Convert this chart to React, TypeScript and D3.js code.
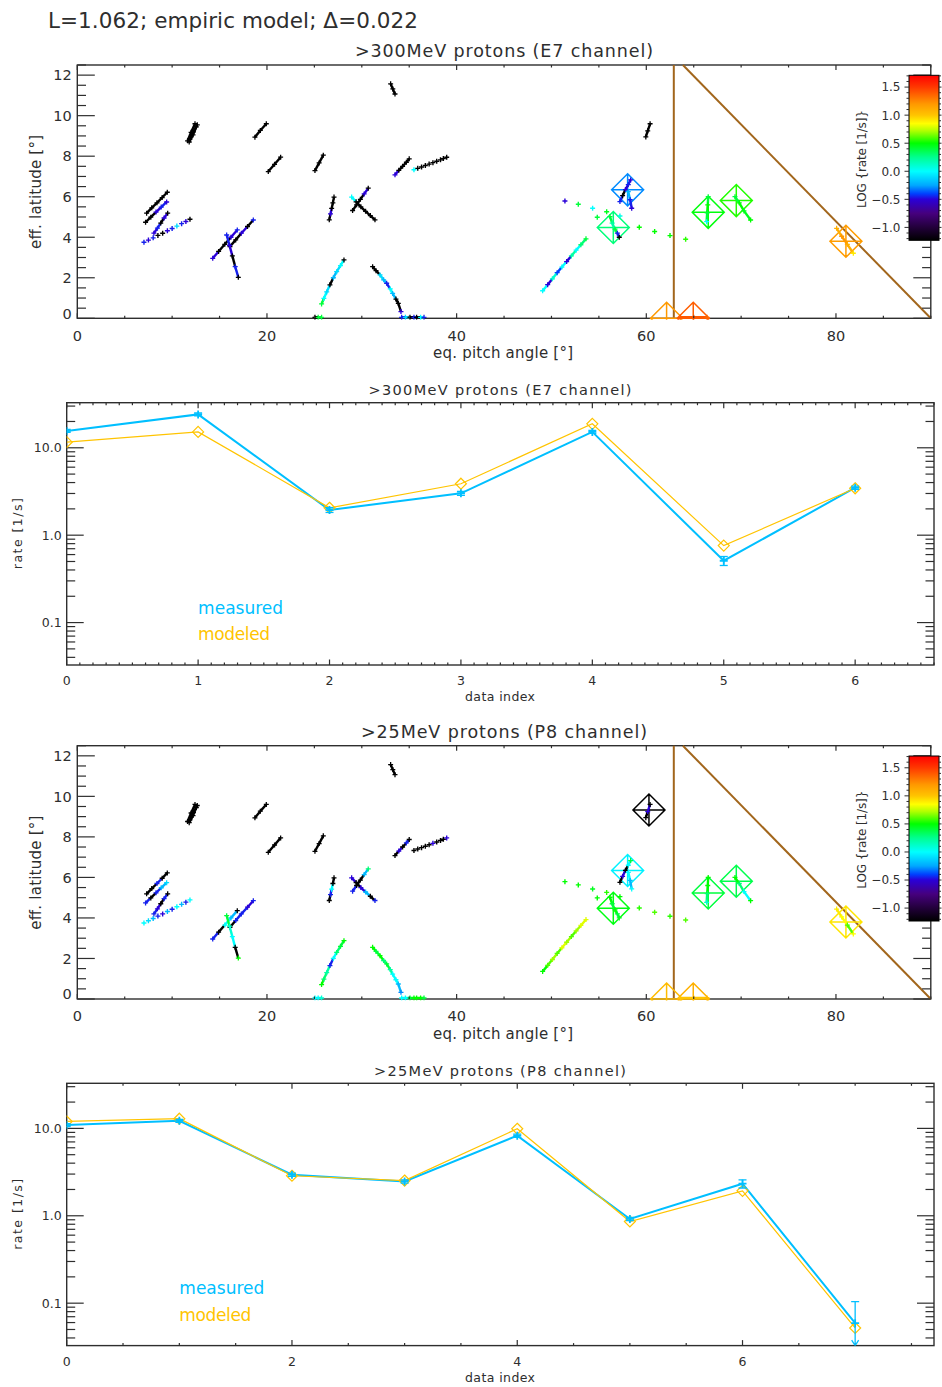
import React from "react";
import * as d3 from "d3";

// ---------------- text ----------------
const HEADER_TEXT = "L=1.062; empiric model; Δ=0.022";
const TITLE_E7 = ">300MeV protons (E7 channel)";
const TITLE_P8 = ">25MeV protons (P8 channel)";
const X_LABEL_SCATTER = "eq. pitch angle [°]";
const Y_LABEL_SCATTER = "eff. latitude [°]";
const CBAR_LABEL = "LOG {rate [1/s]}";
const X_LABEL_RATE = "data index";
const Y_LABEL_RATE = "rate [1/s]";
const LEGEND_MEAS = "measured";
const LEGEND_MODEL = "modeled";

// ---------------- rate data ----------------
const E7_MEASURED = [15.6, 24.1, 1.94, 3.01, 15.2, 0.51, 3.49];
const E7_MEAS_ERR = [0.6, 0.9, 0.12, 0.15, 0.6, 0.06, 0.15];
const E7_MODELED = [11.6, 15.2, 2.06, 3.88, 18.8, 0.76, 3.44];

const P8_MEASURED = [10.9, 12.2, 2.95, 2.47, 8.25, 0.92, 2.33, 0.059];
const P8_MEAS_ERR = [0.4, 0.45, 0.12, 0.1, 0.35, 0.04, 0.25, 0.045];
const P8_MODELED = [12.0, 12.9, 2.87, 2.53, 9.9, 0.86, 1.93, 0.052];

const E7_X_MAX = 6.6;
const P8_X_MAX = 7.7;
const RATE_DOMAIN = [0.0327, 32.8];
const RATE_TICKS = [0.1, 1, 10];
const RATE_TICK_LABELS = ["0.1", "1.0", "10.0"];

// positions of the data points in the pitch/latitude plane (per data index)
const DATA_PITCH = [62.14, 64.95, 56.52, 66.53, 81.05, 58.03, 69.49, 60.28];
const DATA_LAT = [0.0, 0.0, 4.48, 5.23, 3.8, 6.34, 5.81, 9.33];

// ---------------- scatter axes ----------------
const PITCH_DOMAIN = [0, 90];
const LAT_DOMAIN = [0, 12.5];
const PITCH_TICKS = [0, 20, 40, 60, 80];
const LAT_TICKS = [0, 2, 4, 6, 8, 10, 12];
const LOG_DOMAIN = [-1.23, 1.71];
const CBAR_TICKS = [-1.0, -0.5, 0.0, 0.5, 1.0, 1.5];
const CBAR_TICK_LABELS = ["−1.0", "−0.5", "0.0", "0.5", "1.0", "1.5"];

// boundary (loss-cone) lines in pitch/latitude
const BOUNDARY_VERTICAL = [[62.9, 0], [62.9, 12.5]];
const BOUNDARY_DIAGONAL = [[63.86, 12.5], [90, 0]];

// colour table (IDL rainbow) as stops over LOG rate
const CMAP_VALUES = [-1.23, -1.0, -0.75, -0.5, -0.4, -0.25, 0.0, 0.25, 0.5, 0.72, 0.85, 1.0, 1.2, 1.5, 1.71];
const CMAP_COLORS = ["#000000", "#22003a", "#46007e", "#2a00d8", "#0040ff", "#00a8ff", "#00ffff", "#00ff90", "#00ff00", "#b0ff00", "#ffff00", "#ffc400", "#ff9800", "#ff3800", "#ff0000"];

// ---------------- trajectory tracks: [pitch, lat, logRate E7, logRate P8] ----------------
const TRACK_A = [[33.04, 11.57, -1.3, -1.3], [33.27, 11.32, -1.3, -1.3], [33.5, 11.07, -1.3, -1.3]];
const TRACK_B1 = [[11.63, 8.76, -1.3, -1.3], [12.0, 9.18, -1.3, -1.3], [12.41, 9.6, -1.3, -1.3]];
const TRACK_B2 = [[11.88, 8.84, -1.3, -1.3], [12.25, 9.2, -1.3, -1.3], [12.65, 9.55, -1.3, -1.3]];
const TRACK_B3 = [[11.8, 8.7, -1.3, -1.3], [12.2, 9.05, -1.3, -1.3], [12.55, 9.45, -1.3, -1.3]];
const TRACK_C = [[18.73, 8.94, -1.3, -1.3], [19.3, 9.27, -1.3, -1.3], [19.93, 9.6, -1.3, -1.3]];
const TRACK_D = [[20.14, 7.24, -1.3, -1.3], [20.8, 7.6, -1.3, -1.3], [21.44, 7.95, -1.3, -1.3]];
const TRACK_E = [[25.06, 7.29, -1.3, -1.3], [25.5, 7.67, -1.3, -1.3], [25.94, 8.05, -1.3, -1.3]];
const TRACK_F = [[33.5, 7.08, -0.5, -1.3], [33.9, 7.3, -1.3, -0.5], [34.3, 7.5, -1.3, -1.3], [34.7, 7.7, -1.3, -0.45], [35.0, 7.87, -1.3, -1.3]];
const TRACK_G = [[35.5, 7.33, 0.0, -1.3], [35.9, 7.4, -1.3, -1.3], [36.3, 7.47, -1.3, -1.3], [36.7, 7.54, -1.3, -1.3], [37.1, 7.61, -1.3, -1.3], [37.5, 7.68, -1.3, -0.5], [37.9, 7.75, -1.3, -1.3], [38.3, 7.82, -1.3, -1.3], [38.6, 7.88, -1.3, -1.3], [38.95, 7.95, -1.3, -0.5]];
const TRACK_H = [[26.57, 4.86, -1.3, -1.3], [26.7, 5.15, -0.5, -0.45], [26.82, 5.42, -1.3, 0.0], [26.95, 5.7, -1.3, -1.3], [27.07, 5.98, -1.3, -1.3]];
const TRACK_I1 = [[28.93, 5.98, 0.0, -0.5], [29.4, 5.75, -1.3, -1.3], [29.9, 5.5, -1.3, -0.5], [30.4, 5.28, -1.3, -0.2], [30.9, 5.07, -1.3, -1.3], [31.39, 4.86, -1.3, -0.45]];
const TRACK_I2 = [[29.03, 5.32, -1.3, -0.45], [29.45, 5.6, -1.3, -1.3], [29.85, 5.87, -1.3, -1.3], [30.25, 6.14, -0.5, -0.2], [30.68, 6.42, -1.3, 0.3]];
const TRACK_J1 = [[7.31, 5.19, -1.3, -1.3], [7.85, 5.45, -1.3, -1.3], [8.4, 5.7, -1.3, -0.45], [8.95, 5.96, -1.3, -1.3], [9.49, 6.22, -1.3, -1.3]];
const TRACK_J2 = [[7.2, 4.74, -1.3, -0.45], [7.75, 4.99, -1.3, -1.3], [8.3, 5.24, -0.5, -0.45], [8.85, 5.49, -0.45, -0.2], [9.42, 5.74, -0.5, -0.1]];
const TRACK_J3 = [[8.08, 4.2, -0.5, -0.45], [8.45, 4.45, -0.45, -0.5], [8.8, 4.7, -1.3, -1.3], [9.15, 4.95, -0.5, -0.45], [9.53, 5.19, -1.3, -1.3]];
const TRACK_J4 = [[7.03, 3.75, -0.45, 0.0], [7.5, 3.86, -0.5, -0.1], [8.0, 3.97, -0.45, -0.2], [8.5, 4.09, -1.3, -0.45], [9.0, 4.2, -1.3, -0.5], [9.5, 4.32, -0.5, -0.2], [10.0, 4.43, -0.45, -0.45], [10.5, 4.55, -0.1, 0.0], [11.0, 4.67, -0.45, -0.2], [11.45, 4.78, -0.5, -0.45], [11.88, 4.89, -1.3, 0.0]];
const TRACK_K1 = [[14.28, 2.96, -0.5, -0.45], [14.9, 3.3, -1.3, -1.3], [15.55, 3.65, -1.3, 0.0], [16.2, 4.0, -0.5, -0.2], [16.87, 4.36, -0.45, -1.3]];
const TRACK_K2 = [[16.1, 3.54, -1.3, -1.3], [16.7, 3.87, -1.3, -0.45], [17.3, 4.2, -0.5, -0.45], [17.95, 4.53, -1.3, -0.5], [18.56, 4.85, -0.45, -0.45]];
const TRACK_K3 = [[15.75, 4.11, -0.45, 0.4], [16.05, 3.6, -0.5, 0.1], [16.35, 3.08, -1.3, 0.0], [16.65, 2.55, -0.45, -1.3], [16.98, 2.02, -1.3, 0.5]];
const TRACK_L0 = [[25.06, 0.05, -1.3, 0.0], [25.4, 0.05, 0.4, 0.0], [25.76, 0.05, 0.4, 0.1]];
const TRACK_L1 = [[25.76, 0.71, 0.4, 0.5], [26.0, 0.98, 0.0, 0.3], [26.3, 1.3, -0.1, 0.2], [26.64, 1.65, -1.3, -0.45], [27.0, 2.0, -0.2, 0.0], [27.35, 2.3, -0.1, 0.3], [27.75, 2.6, 0.0, 0.4], [28.12, 2.88, -1.3, 0.5]];
const TRACK_M1 = [[31.14, 2.55, -1.3, 0.5], [31.5, 2.35, -1.3, 0.4], [31.92, 2.14, -0.1, 0.5], [32.3, 1.9, -0.2, 0.3], [32.62, 1.73, -0.45, 0.4], [33.0, 1.45, 0.0, 0.2], [33.25, 1.23, -0.2, 0.0], [33.6, 0.95, -1.3, 0.0], [33.85, 0.74, -1.3, -0.2], [34.13, 0.33, -0.5, -0.3]];
const TRACK_M2 = [[34.2, 0.05, -0.45, 0.0], [34.6, 0.05, -0.1, 0.0], [35.08, 0.05, -1.3, 0.4], [35.5, 0.05, -0.45, 0.5], [35.78, 0.05, -1.3, 0.5], [36.2, 0.05, 0.0, 0.5], [36.56, 0.05, -0.45, 0.4]];
const TRACK_N = [[59.95, 8.95, -1.3, -1.3], [60.15, 9.25, -1.3, -0.5], [60.4, 9.6, -1.3, -1.3]];
const TRACK_O = [[49.07, 1.36, 0.0, 0.5], [49.6, 1.66, -0.5, 0.6], [50.1, 1.95, 0.1, 0.7], [50.6, 2.25, -0.4, 0.6], [51.1, 2.53, 0.0, 0.8], [51.6, 2.8, -0.5, 0.7], [52.1, 3.08, 0.2, 0.6], [52.6, 3.36, 0.0, 0.7], [53.1, 3.63, 0.3, 0.8], [53.64, 3.92, 0.4, 0.8]];
const TRACK_P = [[51.42, 5.79, -0.5, 0.5], [52.83, 5.63, 0.4, 0.5], [54.34, 5.43, 0.0, 0.45], [54.83, 4.99, 0.4, 0.5], [55.82, 5.26, 0.45, 0.55], [57.22, 5.05, 0.05, 0.5], [59.26, 4.49, 0.5, 0.55], [60.88, 4.28, 0.5, 0.6], [62.5, 4.08, 0.5, 0.55], [64.15, 3.9, 0.55, 0.6]];
const TRACK_Q1 = [[57.22, 5.76, -0.45, -1.3], [57.5, 6.05, -1.3, -0.5], [57.8, 6.35, -0.5, -1.3], [58.1, 6.6, -0.45, 0.0], [58.35, 6.83, -0.5, 0.4]];
const TRACK_Q2 = [[58.1, 6.25, -0.2, 0.0], [58.3, 5.85, -0.45, -0.2], [58.46, 5.43, -0.5, 0.0]];
const TRACK_R = [[56.17, 5.02, 0.4, 0.5], [56.4, 4.7, 0.2, 0.4], [56.7, 4.4, 0.4, 0.5], [56.95, 4.2, -0.45, 0.4], [57.15, 4.0, -1.3, 0.45]];
const TRACK_S = [[66.53, 6.0, 0.4, 0.5], [66.48, 5.6, 0.5, 0.5], [66.42, 5.2, 0.4, 0.3], [66.36, 4.77, 0.0, 0.1]];
const TRACK_T = [[69.35, 6.0, 0.4, 0.5], [69.8, 5.7, 0.5, 0.3], [70.3, 5.3, 0.45, 0.0], [71.0, 4.85, 0.5, 0.5]];
const TRACK_U = [[80.07, 4.44, 1.1, 0.9], [80.6, 4.05, 1.2, 0.85], [81.2, 3.65, 1.1, 0.6], [81.83, 3.21, 0.9, 0.85]];
const TRACK_V = [[63.6, 0.05, 1.4, 1.0], [65.0, 0.05, 1.4, 1.0], [66.4, 0.05, 1.35, 1.05]];

const DENSE_TRACKS = [TRACK_A, TRACK_B1, TRACK_B2, TRACK_B3, TRACK_C, TRACK_D, TRACK_E, TRACK_F, TRACK_H, TRACK_I1, TRACK_I2, TRACK_J1, TRACK_J2, TRACK_J3, TRACK_K1, TRACK_K2, TRACK_K3, TRACK_L0, TRACK_L1, TRACK_M1, TRACK_M2, TRACK_N, TRACK_O, TRACK_Q1, TRACK_Q2, TRACK_R, TRACK_S, TRACK_T, TRACK_U, TRACK_V];
const SPARSE_TRACKS = [TRACK_G, TRACK_J4, TRACK_P];

// ---------------- style / layout ----------------
const FONT = "'DejaVu Sans', 'Liberation Sans', sans-serif";
const INK = "#2e2e2e";
const MEAS_COLOR = "#00bfff";
const MODEL_COLOR = "#ffc400";
const BOUNDARY_COLOR = "#a2661c";

const SC_LEFT = 77.3, SC_RIGHT = 930.8, SC_H = 253.3;
const RP_LEFT = 66.7, RP_RIGHT = 934, RP_H = 262.3;

const cmap = d3
  .scaleLinear<string>()
  .domain(CMAP_VALUES)
  .range(CMAP_COLORS)
  .interpolate(d3.interpolateRgb)
  .clamp(true);

const isMult = (v: number, s: number) => Math.abs(v / s - Math.round(v / s)) < 1e-6;

function plusPath(x: number, y: number, r: number) {
  return `M${x - r},${y}H${x + r}M${x},${y - r}V${y + r}`;
}
function diamondCross(x: number, y: number, r: number) {
  return `M${x},${y - r}L${x + r},${y}L${x},${y + r}L${x - r},${y}Z M${x - r},${y}H${x + r} M${x},${y - r}V${y + r}`;
}
function diamond(x: number, y: number, r: number) {
  return `M${x},${y - r}L${x + r},${y}L${x},${y + r}L${x - r},${y}Z`;
}

function ScatterPanel({ top, channel, title, measured }: { top: number; channel: "e7" | "p8"; title: string; measured: number[] }) {
  const bottom = top + SC_H;
  const x = d3.scaleLinear().domain(PITCH_DOMAIN).range([SC_LEFT, SC_RIGHT]);
  const y = d3.scaleLinear().domain(LAT_DOMAIN).range([bottom, top]);
  const vi = channel === "e7" ? 2 : 3;
  const clip = `clip-sc-${channel}`;
  const xMinor = d3.range(0, 90.001, 5).filter((v) => !isMult(v, 20));
  const yMinor = d3.range(0, 12.5001, 0.5).filter((v) => !isMult(v, 2));
  const yMaj = 17.5, yMin = 8.7, xMaj = 5, xMin = 2.5;

  const cbTop = top + 10.3, cbBot = top + 175.3, cbL = 909, cbR = 939;
  const cy = d3.scaleLinear().domain(LOG_DOMAIN).range([cbBot, cbTop]);
  const cbMinor = d3.range(-1.2, 1.71, 0.1).filter((v) => !isMult(v, 0.5));
  const lineGen = d3.line<number[]>().x((d) => x(d[0])).y((d) => y(d[1]));

  return (
    <g>
      <text x={504} y={top - 8.2} textAnchor="middle" fontSize={17.5} fill={INK} textLength={channel === "e7" ? 298 : 286} lengthAdjust="spacing">
        {title}
      </text>
      <defs>
        <clipPath id={clip}>
          <rect x={SC_LEFT} y={top - 1} width={SC_RIGHT - SC_LEFT} height={SC_H + 2.5} />
        </clipPath>
      </defs>
      {/* frame */}
      <rect x={SC_LEFT} y={top} width={SC_RIGHT - SC_LEFT} height={SC_H} fill="none" stroke={INK} strokeWidth={1.4} />
      <g clipPath={`url(#${clip})`}>
        <path d={lineGen(BOUNDARY_VERTICAL) || ""} stroke={BOUNDARY_COLOR} strokeWidth={2} fill="none" />
        <path d={lineGen(BOUNDARY_DIAGONAL) || ""} stroke={BOUNDARY_COLOR} strokeWidth={2} fill="none" />
        {measured.map((m, i) => (
          <path key={`dm${i}`} d={diamondCross(x(DATA_PITCH[i]), y(DATA_LAT[i]), 16)} fill="none" stroke={cmap(Math.log10(m))} strokeWidth={1.5} />
        ))}
        {DENSE_TRACKS.map((tr, ti) => (
          <g key={`tr${ti}`}>
            {tr.slice(1).map((p, j) => {
              const a = tr[j];
              return (
                <line key={j} x1={x(a[0])} y1={y(a[1])} x2={x(p[0])} y2={y(p[1])} stroke={cmap(a[vi])} strokeWidth={2.4} />
              );
            })}
            {tr.map((p, j) => (
              <path key={`p${j}`} d={plusPath(x(p[0]), y(p[1]), 2.5)} stroke={cmap(p[vi])} strokeWidth={1.3} fill="none" />
            ))}
          </g>
        ))}
        {SPARSE_TRACKS.map((tr, ti) => (
          <g key={`sp${ti}`}>
            {tr.map((p, j) => (
              <path key={j} d={plusPath(x(p[0]), y(p[1]), 2.5)} stroke={cmap(p[vi])} strokeWidth={1.4} fill="none" />
            ))}
          </g>
        ))}
      </g>
      {/* ticks */}
      <g stroke={INK} strokeWidth={1.2}>
        {PITCH_TICKS.map((v) => (
          <g key={`xt${v}`}>
            <line x1={x(v)} x2={x(v)} y1={bottom} y2={bottom - xMaj} />
            <line x1={x(v)} x2={x(v)} y1={top} y2={top + xMaj} />
          </g>
        ))}
        {xMinor.map((v) => (
          <g key={`xm${v}`}>
            <line x1={x(v)} x2={x(v)} y1={bottom} y2={bottom - xMin} />
            <line x1={x(v)} x2={x(v)} y1={top} y2={top + xMin} />
          </g>
        ))}
        {LAT_TICKS.map((v) => (
          <g key={`yt${v}`}>
            <line x1={SC_LEFT} x2={SC_LEFT + yMaj} y1={y(v)} y2={y(v)} />
            <line x1={SC_RIGHT} x2={SC_RIGHT - yMaj} y1={y(v)} y2={y(v)} />
          </g>
        ))}
        {yMinor.map((v) => (
          <g key={`ym${v}`}>
            <line x1={SC_LEFT} x2={SC_LEFT + yMin} y1={y(v)} y2={y(v)} />
            <line x1={SC_RIGHT} x2={SC_RIGHT - yMin} y1={y(v)} y2={y(v)} />
          </g>
        ))}
      </g>
      {/* tick labels */}
      <g fontSize={14.5} fill={INK}>
        {PITCH_TICKS.map((v) => (
          <text key={`xl${v}`} x={x(v)} y={bottom + 22.2} textAnchor="middle">
            {v}
          </text>
        ))}
        {LAT_TICKS.map((v) => (
          <text key={`yl${v}`} x={SC_LEFT - 5.6} y={Math.min(y(v), bottom - 5) + 5.3} textAnchor="end">
            {v}
          </text>
        ))}
      </g>
      <text x={503} y={bottom + 40} textAnchor="middle" fontSize={15} fill={INK} textLength={140} lengthAdjust="spacing">
        {X_LABEL_SCATTER}
      </text>
      <text transform={`translate(41,${top + 127}) rotate(-90)`} textAnchor="middle" fontSize={15} fill={INK} textLength={114} lengthAdjust="spacing">
        {Y_LABEL_SCATTER}
      </text>
      {/* colour bar */}
      <rect x={cbL} y={cbTop} width={cbR - cbL} height={cbBot - cbTop} fill="url(#cbar-grad)" stroke="#000" strokeWidth={1} />
      <g stroke={INK} strokeWidth={1}>
        {CBAR_TICKS.map((v) => (
          <g key={`cbt${v}`}>
            <line x1={cbL} x2={cbL - 4.5} y1={cy(v)} y2={cy(v)} />
            <line x1={cbR} x2={cbR + 2.5} y1={cy(v)} y2={cy(v)} />
          </g>
        ))}
        {cbMinor.map((v, i) => (
          <g key={`cbm${i}`}>
            <line x1={cbL} x2={cbL - 2.5} y1={cy(v)} y2={cy(v)} />
            <line x1={cbR} x2={cbR + 2} y1={cy(v)} y2={cy(v)} />
          </g>
        ))}
      </g>
      <g fontSize={12} fill={INK}>
        {CBAR_TICKS.map((v, i) => (
          <text key={`cbl${v}`} x={900.5} y={cy(v) + 4.4} textAnchor="end">
            {CBAR_TICK_LABELS[i]}
          </text>
        ))}
      </g>
      <text transform={`translate(866,${top + 94}) rotate(-90)`} textAnchor="middle" fontSize={12} fill={INK} textLength={98} lengthAdjust="spacing">
        {CBAR_LABEL}
      </text>
    </g>
  );
}

function RatePanel({ top, title, titleLen, meas, err, model, xMax, major, minor, legendX }: {
  top: number; title: string; titleLen: number; meas: number[]; err: number[]; model: number[]; xMax: number; major: number; minor: number; legendX: number;
}) {
  const bottom = top + RP_H;
  const x = d3.scaleLinear().domain([0, xMax]).range([RP_LEFT, RP_RIGHT]);
  const y = d3.scaleLog().domain(RATE_DOMAIN).range([bottom, top]);
  const idx = meas.map((_, i) => i);
  const measLine = d3.line<number>().x((i) => x(i)).y((i) => y(meas[i]))(idx) || "";
  const modelLine = d3.line<number>().x((i) => x(i)).y((i) => y(model[i]))(idx) || "";
  const xMajor = d3.range(0, xMax + 1e-9, major);
  const xMinor = d3.range(0, xMax + 1e-9, minor).filter((v) => !isMult(v, major));
  const logMinor: number[] = [];
  [0.01, 0.1, 1, 10].forEach((dec) => {
    for (let k = 2; k <= 9; k++) {
      const v = k * dec;
      if (v >= RATE_DOMAIN[0] && v <= RATE_DOMAIN[1]) logMinor.push(v);
    }
  });
  const clip = `clip-rp-${Math.round(top)}`;
  const yMaj = 17, yMin = 8.5, xMaj = 5.5, xMin = 2.5;

  return (
    <g>
      <text x={500} y={top - 7.5} textAnchor="middle" fontSize={14.5} fill={INK} textLength={titleLen} lengthAdjust="spacing">
        {title}
      </text>
      <defs>
        <clipPath id={clip}>
          <rect x={RP_LEFT} y={top} width={RP_RIGHT - RP_LEFT} height={RP_H} />
        </clipPath>
      </defs>
      <rect x={RP_LEFT} y={top} width={RP_RIGHT - RP_LEFT} height={RP_H} fill="none" stroke={INK} strokeWidth={1.4} />
      <g stroke={INK} strokeWidth={1.2}>
        {xMajor.map((v) => (
          <g key={`xt${v}`}>
            <line x1={x(v)} x2={x(v)} y1={bottom} y2={bottom - xMaj} />
            <line x1={x(v)} x2={x(v)} y1={top} y2={top + xMaj} />
          </g>
        ))}
        {xMinor.map((v, i) => (
          <g key={`xm${i}`}>
            <line x1={x(v)} x2={x(v)} y1={bottom} y2={bottom - xMin} />
            <line x1={x(v)} x2={x(v)} y1={top} y2={top + xMin} />
          </g>
        ))}
        {RATE_TICKS.map((v) => (
          <g key={`yt${v}`}>
            <line x1={RP_LEFT} x2={RP_LEFT + yMaj} y1={y(v)} y2={y(v)} />
            <line x1={RP_RIGHT} x2={RP_RIGHT - yMaj} y1={y(v)} y2={y(v)} />
          </g>
        ))}
        {logMinor.map((v, i) => (
          <g key={`ym${i}`}>
            <line x1={RP_LEFT} x2={RP_LEFT + yMin} y1={y(v)} y2={y(v)} />
            <line x1={RP_RIGHT} x2={RP_RIGHT - yMin} y1={y(v)} y2={y(v)} />
          </g>
        ))}
      </g>
      <g fontSize={12.5} fill={INK}>
        {xMajor.map((v) => (
          <text key={`xl${v}`} x={x(v)} y={bottom + 20} textAnchor="middle">
            {v}
          </text>
        ))}
        {RATE_TICKS.map((v, i) => (
          <text key={`yl${v}`} x={RP_LEFT - 5} y={y(v) + 4.6} textAnchor="end">
            {RATE_TICK_LABELS[i]}
          </text>
        ))}
      </g>
      <text x={500} y={bottom + 36.3} textAnchor="middle" fontSize={12.5} fill={INK} textLength={70} lengthAdjust="spacing">
        {X_LABEL_RATE}
      </text>
      <text transform={`translate(22,${top + 131}) rotate(-90)`} textAnchor="middle" fontSize={12.5} fill={INK} textLength={71} lengthAdjust="spacing">
        {Y_LABEL_RATE}
      </text>
      <g clipPath={`url(#${clip})`}>
        <path d={measLine} fill="none" stroke={MEAS_COLOR} strokeWidth={2} />
        <path d={modelLine} fill="none" stroke={MODEL_COLOR} strokeWidth={1.2} />
        {idx.map((i) => (
          <path key={`md${i}`} d={diamond(x(i), y(model[i]), 5.5)} fill="none" stroke={MODEL_COLOR} strokeWidth={1.2} />
        ))}
        {idx.map((i) => {
          const cx = x(i);
          const hi = meas[i] + err[i];
          const lo = meas[i] - err[i];
          const yHi = y(hi);
          const below = lo <= RATE_DOMAIN[0];
          const yLo = below ? bottom : y(lo);
          return (
            <g key={`me${i}`} stroke={MEAS_COLOR} fill="none">
              <path d={plusPath(cx, y(meas[i]), 4)} strokeWidth={1.8} />
              <line x1={cx} x2={cx} y1={yHi} y2={yLo} strokeWidth={1.3} />
              <line x1={cx - 4} x2={cx + 4} y1={yHi} y2={yHi} strokeWidth={1.3} />
              {below ? (
                <path d={`M${cx - 3.5},${bottom - 5.5}L${cx},${bottom}L${cx + 3.5},${bottom - 5.5}`} strokeWidth={1.3} />
              ) : (
                <line x1={cx - 4} x2={cx + 4} y1={yLo} y2={yLo} strokeWidth={1.3} />
              )}
            </g>
          );
        })}
      </g>
      <text x={x(legendX)} y={top + 211} fontSize={17} fill={MEAS_COLOR} textLength={85} lengthAdjust="spacing">
        {LEGEND_MEAS}
      </text>
      <text x={x(legendX)} y={top + 237.4} fontSize={17} fill={MODEL_COLOR} textLength={72} lengthAdjust="spacing">
        {LEGEND_MODEL}
      </text>
    </g>
  );
}

export default function App() {
  const gradStops = CMAP_VALUES.map((v, i) => ({
    offset: ((v - LOG_DOMAIN[0]) / (LOG_DOMAIN[1] - LOG_DOMAIN[0])) * 100,
    color: CMAP_COLORS[i],
  }));
  return (
    <svg
      width={942}
      height={1387}
      viewBox="0 0 942 1387"
      style={{ position: "absolute", left: 0, top: 0, background: "#fff" }}
      fontFamily={FONT}
    >
      <defs>
        <linearGradient id="cbar-grad" x1="0" y1="1" x2="0" y2="0">
          {gradStops.map((s, i) => (
            <stop key={i} offset={`${s.offset}%`} stopColor={s.color} />
          ))}
        </linearGradient>
      </defs>
      <rect x={0} y={0} width={942} height={1387} fill="#fff" />
      <text x={48} y={28} fontSize={21.5} fill={INK} textLength={370} lengthAdjust="spacing">
        {HEADER_TEXT}
      </text>
      <ScatterPanel top={65} channel="e7" title={TITLE_E7} measured={E7_MEASURED} />
      <RatePanel top={402.7} title={TITLE_E7} titleLen={263} meas={E7_MEASURED} err={E7_MEAS_ERR} model={E7_MODELED} xMax={E7_X_MAX} major={1} minor={0.1} legendX={1} />
      <ScatterPanel top={745.7} channel="p8" title={TITLE_P8} measured={P8_MEASURED} />
      <RatePanel top={1083.3} title={TITLE_P8} titleLen={252} meas={P8_MEASURED} err={P8_MEAS_ERR} model={P8_MODELED} xMax={P8_X_MAX} major={2} minor={0.5} legendX={1} />
    </svg>
  );
}
